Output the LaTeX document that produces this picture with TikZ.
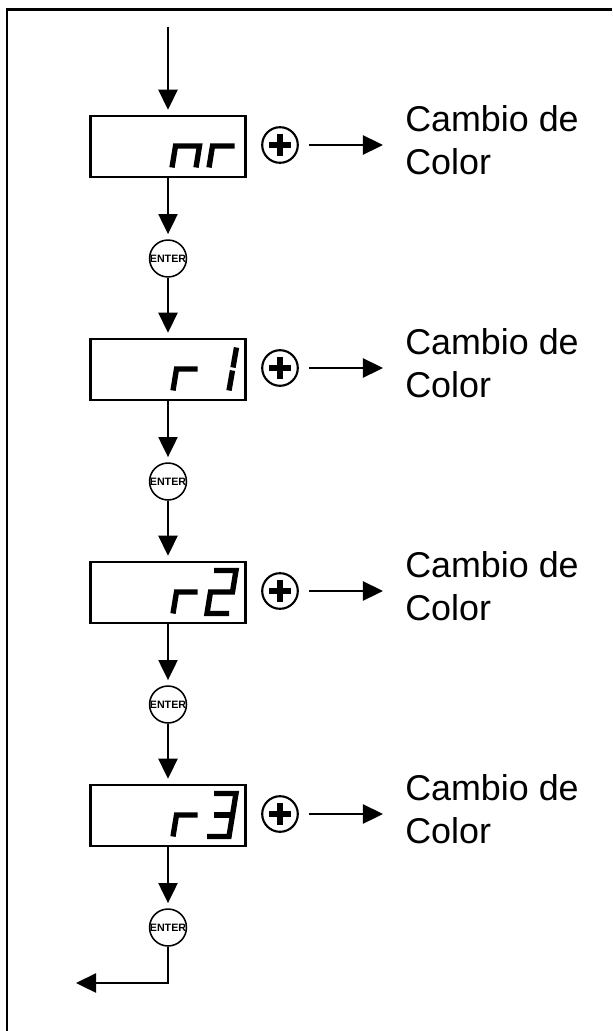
\documentclass[tikz,border=0pt]{standalone}
\usepackage{fontspec}
\setmainfont{Liberation Sans}
\usetikzlibrary{arrows.meta}

\begin{document}
\begin{tikzpicture}[
    x=0.025cm, y=-0.025cm,
    display/.style={rectangle, draw, line width=1.5pt, minimum width=3.875cm, minimum height=1.525cm, inner sep=0pt},
    seg/.style={line width=3.8pt, line join=miter, line cap=butt},
    plusbtn/.style={circle, draw, line width=1.5pt, minimum size=8.9mm, inner sep=0pt,
        path picture={\draw[line width=4pt] (path picture bounding box.center) ++(-11,0) -- ++(22,0);
                      \draw[line width=4pt] (path picture bounding box.center) ++(0,-11) -- ++(0,22);}},
    enterbtn/.style={circle, draw, line width=1.1pt, minimum size=9.2mm, inner sep=0pt, font=\fontsize{7.6}{8}\selectfont\bfseries},
    arr/.style={-{Triangle[length=5mm, width=4.8mm]}, line width=1.1pt},
    lbl/.style={anchor=west, align=left, inner sep=0pt, font=\fontsize{25.5}{30.6}\selectfont}
]
    \useasboundingbox (0,0) rectangle (612,1031);

    % Marco
    \draw[line width=1.5pt] (612,9.5) -- (7,9.5) -- (7,1031);

    % Pantalla nr
    \coordinate (in) at (168,27);
    \node[display] (d1) at (168,146.5) {};
    \node[plusbtn] (p1) at (280,145) {};
    \node[lbl] (t1) at (405,140) {Cambio de\\Color};
    \node[enterbtn] (e1) at (168,258.5) {ENTER};
    \begin{scope}[shift={(d1.center)}]
        \draw[seg] (4,21) -- ++(3.5,-21.5) -- ++(24,0) -- ++(-3.5,21.5);
        \draw[seg] (41,21) -- ++(3.5,-21.5) -- ++(22,0);
    \end{scope}

    % Pantalla r1
    \node[display] (d2) at (168,369.5) {};
    \node[plusbtn] (p2) at (280,368) {};
    \node[lbl] (t2) at (405,363) {Cambio de\\Color};
    \node[enterbtn] (e2) at (168,481.5) {ENTER};
    \begin{scope}[shift={(d2.center)}]
        \draw[seg] (5,21) -- ++(3.5,-21.5) -- ++(21,0);
        \draw[seg] (61,21) -- ++(3.5,-20) (65,-2) -- ++(3.5,-20);
    \end{scope}

    % Pantalla r2
    \node[display] (d3) at (168,592.5) {};
    \node[plusbtn] (p3) at (280,591) {};
    \node[lbl] (t3) at (405,586) {Cambio de\\Color};
    \node[enterbtn] (e3) at (168,704.5) {ENTER};
    \begin{scope}[shift={(d3.center)}]
        \draw[seg] (5,21) -- ++(3.5,-21.5) -- ++(21,0);
        \draw[seg] (46,-22) -- ++(22,0) -- ++(-3.5,21.5) -- ++(-22,0) -- ++(-3.5,21.5) -- ++(22,0);
    \end{scope}

    % Pantalla r3
    \node[display] (d4) at (168,815.5) {};
    \node[plusbtn] (p4) at (280,814) {};
    \node[lbl] (t4) at (405,809) {Cambio de\\Color};
    \node[enterbtn] (e4) at (168,927.5) {ENTER};
    \coordinate (out) at (76,983);
    \begin{scope}[shift={(d4.center)}]
        \draw[seg] (5,21) -- ++(3.5,-21.5) -- ++(21,0);
        \draw[seg] (46,-22) -- ++(22,0) -- ++(-7,43) -- ++(-22,0);
        \draw[seg] (46,-0.5) -- ++(19,0);
    \end{scope}

    % Flechas
    \draw[arr, shorten >=1.3mm] (in) -- (d1);
    \draw[arr, shorten >=1.3mm] (d1) -- (e1);
    \draw[arr, shorten >=1.3mm] (e1) -- (d2);
    \draw[arr, shorten >=1.3mm] (d2) -- (e2);
    \draw[arr, shorten >=1.3mm] (e2) -- (d3);
    \draw[arr, shorten >=1.3mm] (d3) -- (e3);
    \draw[arr, shorten >=1.3mm] (e3) -- (d4);
    \draw[arr, shorten >=1.3mm] (d4) -- (e4);
    \draw[arr] (e4) |- (out);

    \draw[arr, shorten <=2.5mm, shorten >=5.5mm] (p1) -- (p1 -| t1.west);
    \draw[arr, shorten <=2.5mm, shorten >=5.5mm] (p2) -- (p2 -| t2.west);
    \draw[arr, shorten <=2.5mm, shorten >=5.5mm] (p3) -- (p3 -| t3.west);
    \draw[arr, shorten <=2.5mm, shorten >=5.5mm] (p4) -- (p4 -| t4.west);
\end{tikzpicture}
\end{document}
